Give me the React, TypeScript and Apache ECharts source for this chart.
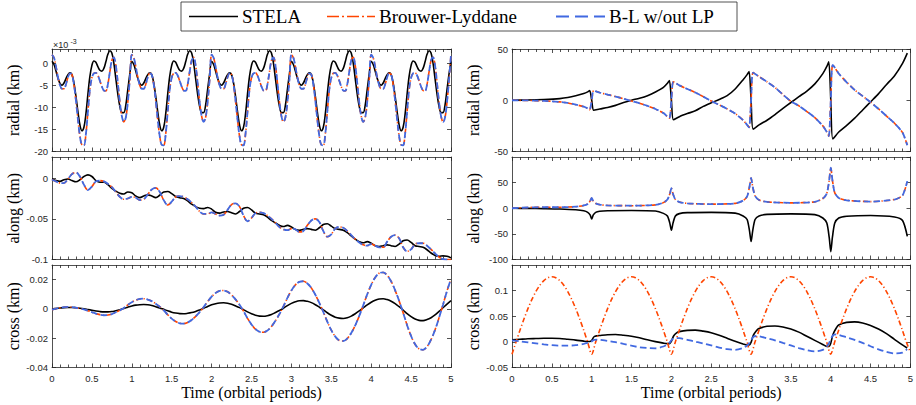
import React, { useEffect, useRef } from "react";
import * as echarts from "echarts";

// ---------- sample times ----------
const FINE_STEP = 0.025;
const COARSE_STEP = 0.05;
const TIME_FINE = Array.from({ length: 201 }, (_, i) => Math.round(i * FINE_STEP * 1000) / 1000);
const TIME_COARSE = Array.from({ length: 101 }, (_, i) => Math.round(i * COARSE_STEP * 100) / 100);

// ---------- left column (short term) ----------
// radial, units of 1e-3 km, sampled every 0.025 period
const RADIAL_L_STELA = [
  0.4, -0.3, -1.8, -3.4, -4.6, -5, -4.5, -3.5, -2.6, -2.2, -2.6, -4.5, -7.5, -11, -14, -15.3, -14.5, -11.5, -7, -3, -0.5, 0.5, 0.2, -0.8, -1.6, -1.8, -1.2, 0.3, 2, 2.8, 2.3, 0, -3.5, -7, -9.8, -11.2, -11.2, -9.5, -6, -2.5,
  0.4, -0.3, -1.8, -3.4, -4.6, -5, -4.5, -3.5, -2.6, -2.2, -2.6, -4.5, -7.5, -11, -14, -15.3, -14.5, -11.5, -7, -3, -0.5, 0.5, 0.2, -0.8, -1.6, -1.8, -1.2, 0.3, 2, 2.8, 2.3, 0, -3.5, -7, -9.8, -11.2, -11.2, -9.5, -6, -2.5,
  0.4, -0.3, -1.8, -3.4, -4.6, -5, -4.5, -3.5, -2.6, -2.2, -2.6, -4.5, -7.5, -11, -14, -15.3, -14.5, -11.5, -7, -3, -0.5, 0.5, 0.2, -0.8, -1.6, -1.8, -1.2, 0.3, 2, 2.8, 2.3, 0, -3.5, -7, -9.8, -11.2, -11.2, -9.5, -6, -2.5,
  0.4, -0.3, -1.8, -3.4, -4.6, -5, -4.5, -3.5, -2.6, -2.2, -2.6, -4.5, -7.5, -11, -14, -15.3, -14.5, -11.5, -7, -3, -0.5, 0.5, 0.2, -0.8, -1.6, -1.8, -1.2, 0.3, 2, 2.8, 2.3, 0, -3.5, -7, -9.8, -11.2, -11.2, -9.5, -6, -2.5,
  0.4, -0.3, -1.8, -3.4, -4.6, -5, -4.5, -3.5, -2.6, -2.2, -2.6, -4.5, -7.5, -11, -14, -15.3, -14.5, -11.5, -7, -3, -0.5, 0.5, 0.2, -0.8, -1.6, -1.8, -1.2, 0.3, 2, 2.8, 2.3, 0, -3.5, -7, -9.8, -11.2, -11.2, -9.5, -6, -2.5,
  0.4,
];
const RADIAL_L_BL = [
  1.9, 1.2, -0.8, -3.2, -5, -5.8, -5.8, -4.8, -3.2, -2.3, -2.6, -4.8, -8.5, -12.8, -16.5, -18.5, -18.6, -16, -11, -6, -3.3, -2.3, -2.2, -2.8, -4, -5.3, -6.2, -6.3, -4.8, -2, 0.6, 1.3, -0.5, -4.5, -8.8, -12, -13.3, -12.3, -8.8, -3.8,
  1.9, 1.2, -0.8, -3.2, -5, -5.8, -5.8, -4.8, -3.2, -2.3, -2.6, -4.8, -8.5, -12.8, -16.5, -18.5, -18.6, -16, -11, -6, -3.3, -2.3, -2.2, -2.8, -4, -5.3, -6.2, -6.3, -4.8, -2, 0.6, 1.3, -0.5, -4.5, -8.8, -12, -13.3, -12.3, -8.8, -3.8,
  1.9, 1.2, -0.8, -3.2, -5, -5.8, -5.8, -4.8, -3.2, -2.3, -2.6, -4.8, -8.5, -12.8, -16.5, -18.5, -18.6, -16, -11, -6, -3.3, -2.3, -2.2, -2.8, -4, -5.3, -6.2, -6.3, -4.8, -2, 0.6, 1.3, -0.5, -4.5, -8.8, -12, -13.3, -12.3, -8.8, -3.8,
  1.9, 1.2, -0.8, -3.2, -5, -5.8, -5.8, -4.8, -3.2, -2.3, -2.6, -4.8, -8.5, -12.8, -16.5, -18.5, -18.6, -16, -11, -6, -3.3, -2.3, -2.2, -2.8, -4, -5.3, -6.2, -6.3, -4.8, -2, 0.6, 1.3, -0.5, -4.5, -8.8, -12, -13.3, -12.3, -8.8, -3.8,
  1.9, 1.2, -0.8, -3.2, -5, -5.8, -5.8, -4.8, -3.2, -2.3, -2.6, -4.8, -8.5, -12.8, -16.5, -18.5, -18.6, -16, -11, -6, -3.3, -2.3, -2.2, -2.8, -4, -5.3, -6.2, -6.3, -4.8, -2, 0.6, 1.3, -0.5, -4.5, -8.8, -12, -13.3, -12.3, -8.8, -3.8,
  1.9,
];
const RADIAL_L_NOLP = RADIAL_L_BL; // the two B-L curves coincide here

// along, km, sampled every 0.05 period
const ALONG_L_STELA = [
  -0.001, -0.003, -0.004, -0.002, -0.001, -0.003, -0.0045, -0.002, 0.002, 0.004,
  0.002, -0.003, -0.005, -0.005, -0.008, -0.0125, -0.016, -0.0185, -0.0195, -0.017,
  -0.018, -0.022, -0.024, -0.022, -0.0205, -0.022, -0.024, -0.021, -0.017, -0.0165,
  -0.019, -0.0225, -0.024, -0.025, -0.028, -0.032, -0.035, -0.037, -0.0375, -0.036,
  -0.038, -0.042, -0.043, -0.0415, -0.041, -0.0425, -0.044, -0.041, -0.037, -0.036,
  -0.039, -0.043, -0.044, -0.045, -0.048, -0.052, -0.055, -0.058, -0.0595, -0.058,
  -0.06, -0.063, -0.064, -0.063, -0.062, -0.063, -0.064, -0.061, -0.057, -0.056,
  -0.059, -0.062, -0.063, -0.064, -0.067, -0.071, -0.075, -0.078, -0.0795, -0.078,
  -0.08, -0.083, -0.084, -0.083, -0.082, -0.083, -0.084, -0.081, -0.077, -0.076,
  -0.079, -0.083, -0.084, -0.085, -0.088, -0.092, -0.095, -0.096, -0.0955, -0.096,
  -0.098,
];
const ALONG_L_BL = [
  -0.002, -0.004, -0.006, -0.006, -0.001, 0.005, 0.007, 0.002, -0.008, -0.0146,
  -0.0104, -0.004, -0.003, -0.004, -0.007, -0.011, -0.017, -0.023, -0.026, -0.025,
  -0.023, -0.024, -0.027, -0.026, -0.02, -0.014, -0.012, -0.017, -0.027, -0.033,
  -0.029, -0.023, -0.022, -0.023, -0.026, -0.03, -0.035, -0.041, -0.044, -0.044,
  -0.042, -0.044, -0.046, -0.045, -0.039, -0.0325, -0.031, -0.035, -0.046, -0.053,
  -0.049, -0.043, -0.042, -0.043, -0.046, -0.05, -0.055, -0.06, -0.063, -0.064,
  -0.062, -0.063, -0.066, -0.065, -0.058, -0.052, -0.05, -0.054, -0.065, -0.072,
  -0.069, -0.062, -0.06, -0.061, -0.065, -0.07, -0.075, -0.079, -0.082, -0.083,
  -0.081, -0.083, -0.085, -0.085, -0.078, -0.072, -0.07, -0.074, -0.085, -0.09,
  -0.0875, -0.081, -0.08, -0.08, -0.083, -0.0875, -0.0925, -0.097, -0.0995, -0.1,
  -0.1,
];
const ALONG_L_NOLP = ALONG_L_BL;

// cross, km, sampled every 0.05 period
const CROSS_L_STELA = [
  0, 0.0003, 0.0006, 0.0009, 0.001, 0.001, 0.0008, 0.0005, 0.0001, -0.0004,
  -0.0009, -0.0014, -0.0018, -0.002, -0.002, -0.0018, -0.0012, -0.0005, 0.0003, 0.0012,
  0.002, 0.0026, 0.0029, 0.003, 0.0028, 0.0023, 0.0015, 0.0007, -0.0003, -0.0013,
  -0.0022, -0.0028, -0.0032, -0.0033, -0.003, -0.0025, -0.0017, -0.0007, 0.0004, 0.0017,
  0.0028, 0.0036, 0.0041, 0.0042, 0.0039, 0.0032, 0.0021, 0.0009, -0.0005, -0.002,
  -0.0033, -0.0043, -0.0049, -0.005, -0.0046, -0.0038, -0.0025, -0.0011, 0.0005, 0.0023,
  0.0038, 0.0049, 0.0056, 0.0057, 0.0052, 0.0043, 0.0029, 0.0012, -0.0006, -0.0026,
  -0.0043, -0.0056, -0.0063, -0.0065, -0.006, -0.0049, -0.0033, -0.0014, 0.0007, 0.0028,
  0.0046, 0.006, 0.0068, 0.007, 0.0064, 0.0053, 0.0036, 0.0015, -0.0008, -0.0032,
  -0.0053, -0.0069, -0.0078, -0.008, -0.0073, -0.006, -0.0041, -0.0017, 0.0008, 0.0033,
  0.0057,
];
const CROSS_L_BL = [
  -0.0005, 0.0002, 0.0008, 0.0012, 0.0014, 0.0012, 0.0008, 0.0003, -0.0003, -0.0012,
  -0.0022, -0.0032, -0.0039, -0.0043, -0.0042, -0.0035, -0.0023, -0.001, 0.0007, 0.0028,
  0.0046, 0.006, 0.0068, 0.007, 0.0064, 0.0053, 0.0036, 0.0015, -0.0009, -0.004,
  -0.0066, -0.0086, -0.0098, -0.01, -0.0092, -0.0075, -0.0051, -0.0022, 0.0012, 0.005,
  0.0084, 0.0109, 0.0124, 0.0126, 0.0117, 0.0095, 0.0065, 0.0028, -0.0015, -0.0064,
  -0.0106, -0.0138, -0.0156, -0.0159, -0.0147, -0.012, -0.0081, -0.0035, 0.0018, 0.0075,
  0.0126, 0.0164, 0.0185, 0.0189, 0.0174, 0.0143, 0.0097, 0.0041, -0.0021, -0.0087,
  -0.0145, -0.0189, -0.0215, -0.0219, -0.0202, -0.0165, -0.0112, -0.0048, 0.0024, 0.0099,
  0.0165, 0.0215, 0.0244, 0.0249, 0.023, 0.0188, 0.0127, 0.0055, -0.0026, -0.0111,
  -0.0185, -0.0241, -0.0273, -0.0279, -0.0257, -0.021, -0.0143, -0.0061, 0.0029, 0.0123,
  0.0205,
];
const CROSS_L_NOLP = CROSS_L_BL;

// ---------- right column (long term) ----------
const RADIAL_R_TIME = [
  0, 0.2, 0.4, 0.6, 0.7, 0.8, 0.9, 0.95, 0.975, 1.0, 1.025,
  1.1, 1.2, 1.3, 1.4, 1.5, 1.6, 1.7, 1.8, 1.9, 1.95, 1.975, 2.0, 2.025,
  2.1, 2.2, 2.3, 2.4, 2.5, 2.6, 2.7, 2.8, 2.9, 2.95, 2.975, 3.0, 3.025,
  3.1, 3.2, 3.3, 3.4, 3.5, 3.6, 3.7, 3.8, 3.9, 3.95, 3.975, 4.0, 4.025,
  4.1, 4.2, 4.3, 4.4, 4.5, 4.6, 4.7, 4.8, 4.9, 4.96,
];
const RADIAL_R_STELA = [
  0, 0.2, 0.7, 1.6, 2.6, 4.3, 6.5, 8.2, 9.5, 0, -9.8,
  -8.5, -7, -5, -2.3, 0, 2, 4.5, 8, 12.5, 16.5, 19.3, 0, -19,
  -16, -13, -10.3, -6, -2.5, 0.8, 4.5, 11, 20, 25, 28, 0, -28.2,
  -24, -19.5, -14, -8, -2.2, 3.5, 9, 16, 26, 33, 37.4, 0, -37.7,
  -31, -24.5, -17.5, -9.5, -1.5, 6.5, 15.4, 24, 36, 46,
];
const RADIAL_R_BL = [
  0, -0.2, -0.7, -1.6, -2.6, -4.3, -6.3, -8, -9.2, 0, 9.3,
  7.5, 5.5, 3.6, 1.5, -0.8, -3, -5.5, -8.5, -12.5, -16, -17.5, 0, 18,
  14.5, 11, 7.5, 3.5, -0.8, -4.5, -8.5, -13, -19.5, -24, -26.5, 0, 27,
  23, 18, 12.5, 5.5, -1, -5.5, -11, -17, -25, -31, -35, 0, 34.5,
  26, 17.5, 10, 4, -2, -8.5, -15.5, -22.5, -31.5, -44,
];
const RADIAL_R_NOLP = RADIAL_R_BL;

const ALONG_R_TIME = [
  0, 0.2, 0.4, 0.6, 0.8, 0.9, 0.95, 0.98, 1.0,
  1.02, 1.05, 1.1, 1.2, 1.5, 1.8, 1.9, 1.95, 1.98, 2.0,
  2.02, 2.05, 2.1, 2.2, 2.5, 2.8, 2.9, 2.95, 2.98, 3.0,
  3.02, 3.05, 3.1, 3.2, 3.5, 3.8, 3.9, 3.95, 3.98, 4.0,
  4.02, 4.05, 4.1, 4.2, 4.5, 4.8, 4.9, 4.96,
];
const ALONG_R_STELA = [
  0, -0.3, -0.8, -1.5, -3, -5, -8, -13, -21,
  -13, -8, -6, -5, -4.5, -5.5, -10, -15, -29, -43,
  -29, -15, -10.5, -8.5, -8, -9.5, -15, -22, -44, -65,
  -44, -22, -15, -12, -11, -12.5, -19, -29, -57, -85,
  -57, -29, -19, -15.5, -14, -17, -24, -55,
];
const ALONG_R_BL = [
  0, 1.5, 2, 2, 3, 5.5, 8.5, 14, 20,
  14, 9.5, 7, 5.5, 5, 6.5, 11, 17, 28, 39,
  28, 17, 12, 9.5, 8, 9.5, 15, 23, 42, 59,
  42, 24, 16, 12.5, 10.5, 12.5, 19, 29, 55, 79,
  55, 30, 20, 15.5, 13, 17, 25, 53,
];
const ALONG_R_NOLP = ALONG_R_BL;

const CROSS_R_TIME = [
  0, 0.1, 0.2, 0.3, 0.4, 0.5, 0.6, 0.7, 0.8, 0.9, 0.95, 0.98, 1.0, 1.03, 1.07,
  1.1, 1.2, 1.3, 1.4, 1.5, 1.6, 1.7, 1.8, 1.9, 1.95, 1.98, 2.0, 2.03, 2.07,
  2.1, 2.2, 2.3, 2.4, 2.5, 2.6, 2.7, 2.8, 2.9, 2.95, 2.98, 3.0, 3.03, 3.07,
  3.1, 3.2, 3.3, 3.4, 3.5, 3.6, 3.7, 3.8, 3.9, 3.95, 3.98, 4.0, 4.03, 4.07,
  4.1, 4.2, 4.3, 4.4, 4.5, 4.6, 4.7, 4.8, 4.9, 4.96,
];
const CROSS_R_STELA = [
  0.004, 0.005, 0.006, 0.0065, 0.007, 0.007, 0.0065, 0.005, 0.0035, 0.0015, 0.0008, 0.0008, 0.003, 0.01, 0.012,
  0.0125, 0.014, 0.0145, 0.013, 0.011, 0.008, 0.004, 0.0005, -0.0025, -0.0035, -0.003, 0.001, 0.012, 0.018,
  0.02, 0.0225, 0.023, 0.021, 0.018, 0.013, 0.007, 0.001, -0.004, -0.006, -0.006, -0.001, 0.013, 0.022,
  0.026, 0.0305, 0.031, 0.029, 0.025, 0.019, 0.011, 0.003, -0.005, -0.009, -0.009, -0.003, 0.015, 0.027,
  0.033, 0.038, 0.039, 0.037, 0.032, 0.025, 0.016, 0.005, -0.006, -0.012,
];
const CROSS_R_NOLP = [
  0.003, 0.001, -0.001, -0.003, -0.005, -0.0065, -0.0072, -0.0072, -0.0065, -0.004, -0.002, -0.0005, 0.001, 0.004, 0.0045,
  0.004, 0.002, -0.0005, -0.004, -0.0075, -0.0105, -0.012, -0.0125, -0.009, -0.005, -0.001, 0.003, 0.007, 0.0075,
  0.0072, 0.004, 0.0005, -0.003, -0.007, -0.011, -0.014, -0.0155, -0.012, -0.007, -0.002, 0.003, 0.01, 0.0115,
  0.011, 0.007, 0.003, -0.002, -0.007, -0.012, -0.016, -0.0185, -0.0155, -0.009, -0.002, 0.004, 0.013, 0.0145,
  0.0138, 0.009, 0.004, -0.002, -0.0085, -0.0145, -0.0195, -0.0225, -0.021, -0.014,
];
// Brouwer-Lyddane cross-track, sampled every 0.05 period
const CROSS_R_BL = [
  -0.024, -0.0004, 0.0227, 0.0446, 0.0648, 0.0828, 0.0982, 0.1105, 0.1196, 0.1252, 0.127, 0.1252, 0.1196, 0.1105, 0.0982, 0.0828, 0.0648, 0.0446, 0.0227, -0.0004,
  -0.024, -0.0004, 0.0227, 0.0446, 0.0648, 0.0828, 0.0982, 0.1105, 0.1196, 0.1252, 0.127, 0.1252, 0.1196, 0.1105, 0.0982, 0.0828, 0.0648, 0.0446, 0.0227, -0.0004,
  -0.024, -0.0004, 0.0227, 0.0446, 0.0648, 0.0828, 0.0982, 0.1105, 0.1196, 0.1252, 0.127, 0.1252, 0.1196, 0.1105, 0.0982, 0.0828, 0.0648, 0.0446, 0.0227, -0.0004,
  -0.024, -0.0004, 0.0227, 0.0446, 0.0648, 0.0828, 0.0982, 0.1105, 0.1196, 0.1252, 0.127, 0.1252, 0.1196, 0.1105, 0.0982, 0.0828, 0.0648, 0.0446, 0.0227, -0.0004,
  -0.024, -0.0004, 0.0227, 0.0446, 0.0648, 0.0828, 0.0982, 0.1105, 0.1196, 0.1252, 0.127, 0.1252, 0.1196, 0.1105, 0.0982, 0.0828, 0.0648, 0.0446, 0.0227, -0.0004,
  -0.02,
];

// ---------- labels ----------
const LEGEND_NAMES = ["STELA", "Brouwer-Lyddane", "B-L w/out LP"];
const Y_NAMES = ["radial (km)", "along (km)", "cross (km)"];
const X_NAME = "Time (orbital periods)";

// ---------- styling ----------
const AX = "#262626";
const SANS = "'Liberation Sans', Arial, Helvetica, sans-serif";
const SERIF = "'Liberation Serif', 'Times New Roman', serif";
const STYLES: any = {
  stela: { color: "#000000", width: 1.6, type: "solid" },
  bl: { color: "#FF4500", width: 1.6, type: [5, 2.5, 1.2, 2.5] },
  nolp: { color: "#4169E1", width: 1.8, type: [6.5, 3.5] },
};
const COL_LEFT = [52, 512];
const COL_W = [399, 398.5];
const ROW_TOP = [49, 157, 265];
const ROW_H = 102.5;

const PANELS: any[] = [
  { col: 0, row: 0, min: -20, max: 3.2, interval: 5, hideMax: true, smooth: 0.35,
    lines: [[TIME_FINE, RADIAL_L_STELA, "stela"], [TIME_FINE, RADIAL_L_BL, "bl"], [TIME_FINE, RADIAL_L_NOLP, "nolp"]] },
  { col: 0, row: 1, min: -0.1, max: 0.026, interval: 0.05, hideMax: true, smooth: 0.35,
    lines: [[TIME_COARSE, ALONG_L_STELA, "stela"], [TIME_COARSE, ALONG_L_BL, "bl"], [TIME_COARSE, ALONG_L_NOLP, "nolp"]] },
  { col: 0, row: 2, min: -0.04, max: 0.03, interval: 0.02, hideMax: true, smooth: 0.35,
    lines: [[TIME_COARSE, CROSS_L_STELA, "stela"], [TIME_COARSE, CROSS_L_BL, "bl"], [TIME_COARSE, CROSS_L_NOLP, "nolp"]] },
  { col: 1, row: 0, min: -50, max: 50, interval: 50, hideMax: false, smooth: 0.25,
    lines: [[RADIAL_R_TIME, RADIAL_R_STELA, "stela"], [RADIAL_R_TIME, RADIAL_R_BL, "bl"], [RADIAL_R_TIME, RADIAL_R_NOLP, "nolp"]] },
  { col: 1, row: 1, min: -100, max: 100, interval: 50, hideMax: true, smooth: 0.25,
    lines: [[ALONG_R_TIME, ALONG_R_STELA, "stela"], [ALONG_R_TIME, ALONG_R_BL, "bl"], [ALONG_R_TIME, ALONG_R_NOLP, "nolp"]] },
  { col: 1, row: 2, min: -0.05, max: 0.15, interval: 0.05, hideMax: true, smooth: 0.3,
    lines: [[CROSS_R_TIME, CROSS_R_STELA, "stela"], [TIME_COARSE, CROSS_R_BL, "bl"], [CROSS_R_TIME, CROSS_R_NOLP, "nolp"]] },
];

function zip(t: number[], v: number[]) {
  return v.map((y, i) => [t[i], y]);
}

function buildOption() {
  const grid: any[] = [];
  const xAxis: any[] = [];
  const yAxis: any[] = [];
  const series: any[] = [];
  PANELS.forEach((p, i) => {
    grid.push({ left: COL_LEFT[p.col], top: ROW_TOP[p.row], width: COL_W[p.col], height: ROW_H, show: false });
    const bottom = p.row === 2;
    const tickCommon = {
      axisLine: { show: true, onZero: false, lineStyle: { color: AX, width: 0.8 } },
      axisTick: { show: true, inside: true, length: 4, lineStyle: { color: AX, width: 0.8 } },
      splitLine: { show: false },
      minorSplitLine: { show: false },
    };
    xAxis.push({
      gridIndex: i, type: "value", min: 0, max: 5, interval: 0.5, position: "bottom",
      ...tickCommon,
      minorTick: { show: true, splitNumber: 5, length: 3, lineStyle: { color: AX, width: 0.8 } },
      axisLabel: { show: bottom, color: AX, fontSize: 9.5, fontFamily: SANS, margin: 6 },
      name: bottom ? X_NAME : "", nameLocation: "middle", nameGap: 17,
      nameTextStyle: { color: "#000", fontSize: 16, fontFamily: SERIF },
    });
    xAxis.push({
      gridIndex: i, type: "value", min: 0, max: 5, interval: 0.5, position: "top",
      ...tickCommon,
      minorTick: { show: true, splitNumber: 5, length: 3, lineStyle: { color: AX, width: 0.8 } },
      axisLabel: { show: false },
    });
    yAxis.push({
      gridIndex: i, type: "value", min: p.min, max: p.max, interval: p.interval, position: "left",
      ...tickCommon,
      axisLabel: { show: true, color: AX, fontSize: 9.5, fontFamily: SANS, margin: 4, showMaxLabel: !p.hideMax },
      name: Y_NAMES[p.row], nameLocation: "middle", nameGap: 31,
      nameTextStyle: { color: "#000", fontSize: 16, fontFamily: SERIF },
    });
    yAxis.push({
      gridIndex: i, type: "value", min: p.min, max: p.max, interval: p.interval, position: "right",
      ...tickCommon,
      axisLabel: { show: false },
    });
    p.lines.forEach((ln: any, k: number) => {
      const st = STYLES[ln[2]];
      series.push({
        name: LEGEND_NAMES[k],
        type: "line",
        xAxisIndex: 2 * i,
        yAxisIndex: 2 * i,
        data: zip(ln[0], ln[1]),
        showSymbol: false,
        symbol: "none",
        smooth: p.smooth,
        clip: true,
        lineStyle: { color: st.color, width: st.width, type: st.type },
        z: 2 + k,
      });
    });
  });

  const LY = 16.5;
  const legendFont = { fontSize: 19, fontFamily: SERIF, fill: "#000", verticalAlign: "middle" };
  const graphic: any[] = [
    { type: "rect", shape: { x: 181, y: 2, width: 556, height: 29 }, style: { fill: "#fff", stroke: AX, lineWidth: 0.8 }, z: 10 },
    { type: "line", shape: { x1: 189, y1: LY, x2: 238, y2: LY }, style: { stroke: STYLES.stela.color, lineWidth: 1.6 }, z: 11 },
    { type: "text", x: 242, y: LY, style: { text: LEGEND_NAMES[0], ...legendFont }, z: 11 },
    { type: "line", shape: { x1: 327, y1: LY, x2: 375, y2: LY }, style: { stroke: STYLES.bl.color, lineWidth: 1.6, lineDash: [12, 3, 2, 3] }, z: 11 },
    { type: "text", x: 379, y: LY, style: { text: LEGEND_NAMES[1], ...legendFont }, z: 11 },
    { type: "line", shape: { x1: 556, y1: LY, x2: 605, y2: LY }, style: { stroke: STYLES.nolp.color, lineWidth: 1.8, lineDash: [13, 6] }, z: 11 },
    { type: "text", x: 609, y: LY, style: { text: LEGEND_NAMES[2], ...legendFont }, z: 11 },
    { type: "text", x: 53, y: 44.5, style: { text: "×10", fontSize: 9, fontFamily: SANS, fill: AX, verticalAlign: "middle" }, z: 11 },
    { type: "text", x: 70.5, y: 41, style: { text: "-3", fontSize: 7, fontFamily: SANS, fill: AX, verticalAlign: "middle" }, z: 11 },
  ];

  return { animation: false, backgroundColor: "#ffffff", grid, xAxis, yAxis, series, graphic };
}

export default function App() {
  const ref = useRef<HTMLDivElement>(null);
  useEffect(() => {
    if (!ref.current) return;
    const chart = echarts.init(ref.current, null, { renderer: "svg" });
    chart.setOption(buildOption() as any);
    return () => chart.dispose();
  }, []);
  return (
    <div
      ref={ref}
      style={{ position: "absolute", left: 0, top: 0, width: 916, height: 405, background: "#fff" }}
    />
  );
}
